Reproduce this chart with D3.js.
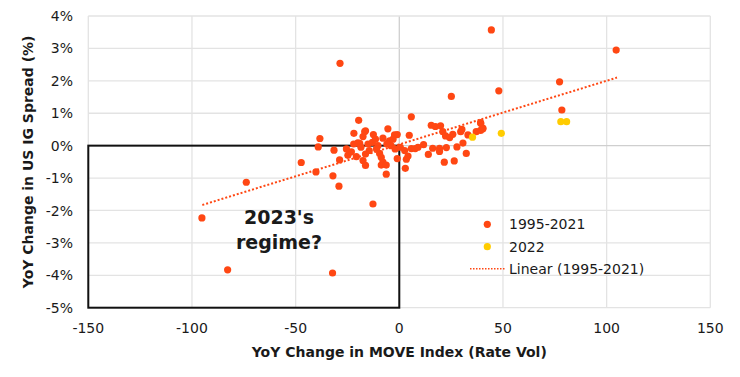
<!DOCTYPE html>
<html>
<head>
<meta charset="utf-8">
<script src="https://cdn.jsdelivr.net/npm/d3@7"></script>
<style>
  body { margin: 0; background: #fff; }
  text { font-family: "DejaVu Sans", sans-serif; fill: #1a1a1a; }
</style>
</head>
<body>
<div id="chart"></div>
<script>
// 1995-2021: [MOVE yoy change, IG spread yoy change %]
const hist = [
  [44.4, 3.57], [-28.6, 2.54], [25.1, 1.52], [48.0, 1.69], [5.8, 0.89], [-19.6, 0.78],
  [-38.3, 0.22], [-39.1, -0.04], [-31.5, -0.14], [-47.3, -0.52], [-40.2, -0.81], [-32.0, -0.93],
  [-29.1, -1.25], [-28.8, -0.44], [-24.8, -0.30], [-21.9, 0.38], [-16.3, 0.46], [-17.5, 0.28],
  [-12.5, 0.34], [-5.5, 0.52], [-7.9, 0.23], [-1.0, 0.34], [4.8, 0.32], [-4.7, 0.15],
  [-20.0, 0.09], [-15.1, 0.05], [-10.3, 0.00], [-23.1, -0.19], [-20.7, -0.34], [-16.3, -0.26],
  [-17.5, -0.46], [-16.3, -0.61], [-9.5, -0.24], [-8.7, -0.36], [-7.9, -0.51], [-8.7, -0.60],
  [-6.3, -0.60], [-6.3, -0.88], [-1.0, -0.40], [2.9, -0.70], [3.4, -0.42], [4.2, -0.32],
  [5.8, -0.09], [7.7, -0.09], [2.6, -0.15], [11.7, 0.03], [14.0, -0.27], [16.1, -0.08],
  [15.4, 0.63], [17.4, 0.59], [19.9, 0.61], [21.0, 0.43], [22.3, 0.30], [24.3, 0.25],
  [25.8, 0.35], [19.4, -0.08], [19.4, -0.18], [22.7, -0.06], [21.7, -0.51], [26.5, -0.47],
  [27.8, -0.04], [30.7, 0.08], [29.6, 0.43], [30.2, 0.50], [32.3, -0.24], [33.1, 0.33],
  [37.1, 0.43], [39.2, 0.71], [40.3, 0.54], [39.2, 0.47], [39.3, 0.69], [40.3, 0.52],
  [77.3, 1.97], [78.4, 1.10], [104.6, 2.95],
  [-95.2, -2.23], [-82.8, -3.83], [-73.8, -1.13], [-12.7, -1.80], [-32.2, -3.93],
  [-16.7, 0.43], [-2.3, 0.33], [-19.1, 0.07], [-13.0, 0.10], [-11.0, -0.10], [-14.5, -0.15],
  [-4.0, 0.00], [-2.0, -0.10], [-18.5, -0.05], [-6.0, 0.05], [-3.0, 0.20], [-25.5, -0.10],
  [-22.0, 0.05], [-11.5, 0.20], [0.5, -0.05], [9.0, -0.05]
];
const y2022 = [[35.3, 0.26], [49.2, 0.38], [77.9, 0.74], [80.7, 0.74]];

// trend line (y = slope*x + intercept)
const trendX = [-95, 105];
const trendSlope = 0.01965;
const trendIntercept = 0.037;

const xTicks = [-150, -100, -50, 0, 50, 100, 150];
const yTicks = [-5, -4, -3, -2, -1, 0, 1, 2, 3, 4];
const legendItems = ['1995-2021', '2022', 'Linear (1995-2021)'];
const noteLines = ["2023's", 'regime?'];

const width = 740, height = 377;
const orange = '#ff4713', yellow = '#ffcc00';

const svg = d3.select('#chart').append('svg').attr('width', width).attr('height', height);

const x = d3.scaleLinear().domain([-150, 150]).range([88.3, 710.3]);
const y = d3.scaleLinear().domain([-5, 4]).range([307.7, 16]);

// grid
svg.append('g').selectAll('line')
    .data(xTicks)
    .enter()
    .append('line')
    .attr('x1', d => x(d)).attr('x2', d => x(d))
    .attr('y1', y(4)).attr('y2', y(-5))
    .attr('stroke', d => d == 0 ? '#cfcfcf' : '#e3e3e3')
    .attr('stroke-width', 1.3);

svg.append('g').selectAll('line')
    .data(yTicks)
    .enter()
    .append('line')
    .attr('x1', x(-150)).attr('x2', x(150))
    .attr('y1', d => y(d)).attr('y2', d => y(d))
    .attr('stroke', d => d == 0 ? '#cfcfcf' : '#e3e3e3')
    .attr('stroke-width', 1.3);

// tick labels
svg.append('g').selectAll('text')
    .data(xTicks)
    .enter()
    .append('text')
    .attr('x', d => x(d))
    .attr('y', 333)
    .attr('text-anchor', 'middle')
    .style('font-size', '14px')
    .text(d => d);

svg.append('g').selectAll('text')
    .data(yTicks)
    .enter()
    .append('text')
    .attr('x', 73)
    .attr('y', d => y(d))
    .attr('dy', '.36em')
    .attr('text-anchor', 'end')
    .style('font-size', '14px')
    .text(d => d + '%');

// axis titles
svg.append('text')
    .attr('x', x(0))
    .attr('y', 357)
    .attr('text-anchor', 'middle')
    .style('font-size', '14px')
    .style('font-weight', 'bold')
    .text('YoY Change in MOVE Index (Rate Vol)');

svg.append('text')
    .attr('transform', 'translate(33,' + ((y(4) + y(-5)) / 2) + ') rotate(-90)')
    .attr('text-anchor', 'middle')
    .style('font-size', '14px')
    .style('font-weight', 'bold')
    .text('YoY Change in US IG Spread (%)');

// 2023 regime box
svg.append('rect')
    .attr('x', x(-150)).attr('y', y(0))
    .attr('width', x(0) - x(-150)).attr('height', y(-5) - y(0))
    .attr('fill', 'none')
    .attr('stroke', '#111')
    .attr('stroke-width', 2);

// trend line
svg.append('line')
    .attr('x1', x(trendX[0])).attr('y1', y(trendSlope * trendX[0] + trendIntercept))
    .attr('x2', x(trendX[1])).attr('y2', y(trendSlope * trendX[1] + trendIntercept))
    .attr('stroke', orange)
    .attr('stroke-width', 2)
    .attr('stroke-dasharray', '2,2');

// points
svg.append('g').selectAll('circle')
    .data(hist)
    .enter()
    .append('circle')
    .attr('cx', d => x(d[0]))
    .attr('cy', d => y(d[1]))
    .attr('r', 3.6)
    .attr('fill', orange);

svg.append('g').selectAll('circle')
    .data(y2022)
    .enter()
    .append('circle')
    .attr('cx', d => x(d[0]))
    .attr('cy', d => y(d[1]))
    .attr('r', 3.6)
    .attr('fill', yellow);

// annotation
svg.append('g').selectAll('text')
    .data(noteLines)
    .enter()
    .append('text')
    .attr('x', 279)
    .attr('y', (d, i) => 224 + i * 25)
    .attr('text-anchor', 'middle')
    .style('font-size', '19px')
    .style('font-weight', 'bold')
    .text(d => d);

// legend
const legend = svg.append('g');
legend.append('circle').attr('cx', 487.3).attr('cy', 224.3).attr('r', 3.6).attr('fill', orange);
legend.append('circle').attr('cx', 487.3).attr('cy', 246.7).attr('r', 3.6).attr('fill', yellow);
legend.append('line')
    .attr('x1', 470).attr('x2', 505)
    .attr('y1', 268.7).attr('y2', 268.7)
    .attr('stroke', orange)
    .attr('stroke-width', 1.5)
    .attr('stroke-dasharray', '1.5,1.5');
legend.selectAll('text')
    .data(legendItems)
    .enter()
    .append('text')
    .attr('x', 509)
    .attr('y', (d, i) => 224.3 + i * 22.2)
    .attr('dy', '.36em')
    .style('font-size', '14px')
    .text(d => d);
</script>
</body>
</html>
